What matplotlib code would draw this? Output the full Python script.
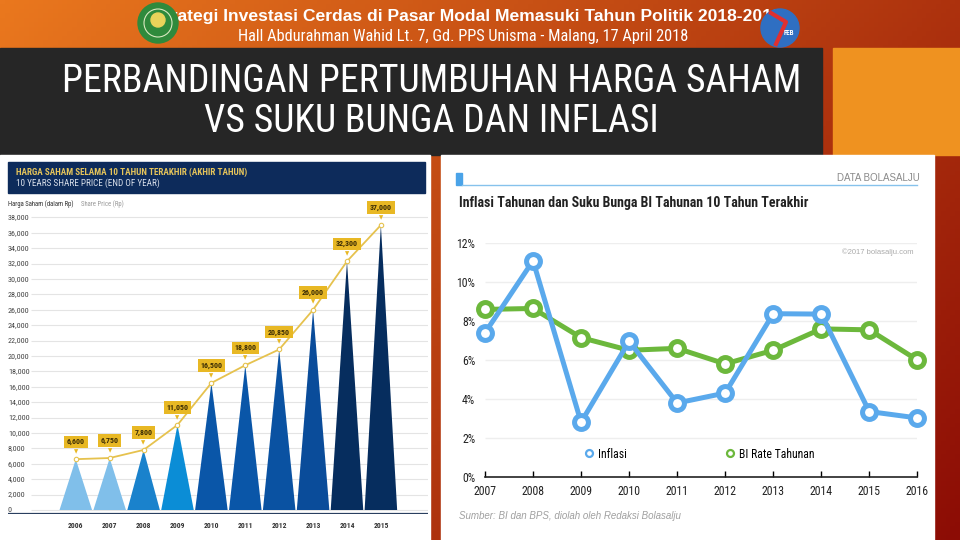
import numpy as np
import matplotlib
matplotlib.use("Agg")
import matplotlib.pyplot as plt
from matplotlib.patches import Rectangle, Circle
from matplotlib.lines import Line2D

# ---- data ----
share_years = ["2006", "2007", "2008", "2009", "2010", "2011", "2012", "2013", "2014", "2015"]
share_price = [6600, 6750, 7800, 11050, 16500, 18800, 20850, 26000, 32300, 37000]
share_colors = ["#80bfea", "#80bfea", "#1a82cc", "#0b8dd6", "#0a56a8", "#0a56a8",
                "#0a52a2", "#0a4c9a", "#062d5e", "#062d5e"]
share_ticks = list(range(0, 38001, 2000))

rate_years = [2007, 2008, 2009, 2010, 2011, 2012, 2013, 2014, 2015, 2016]
inflasi = [7.4, 11.1, 2.8, 6.96, 3.79, 4.3, 8.38, 8.36, 3.35, 3.02]
bi_rate = [8.6, 8.65, 7.15, 6.5, 6.6, 5.8, 6.5, 7.6, 7.55, 6.0]
pct_ticks = [0, 2, 4, 6, 8, 10, 12]

W, H = 960, 540
NARROW = ["Roboto Condensed", "DejaVu Sans"]
SANS = ["Liberation Sans", "DejaVu Sans"]
COND = dict(family=NARROW, fontstretch="condensed")


def rect(x0, y0, x1, y1):
    return [x0 / W, 1 - y1 / H, (x1 - x0) / W, (y1 - y0) / H]


fig = plt.figure(figsize=(9.6, 5.4), dpi=100)

# ---- slide background ----
bg = fig.add_axes([0, 0, 1, 1])
bg.set_xlim(0, W)
bg.set_ylim(H, 0)
bg.axis("off")
xx, yy = np.meshgrid(np.linspace(0, 1, 200), np.linspace(0, 1, 120))
t = np.clip(0.65 * xx + 0.35 * yy, 0, 1)[..., None]
c0 = np.array([234, 120, 30]) / 255
c1 = np.array([140, 12, 5]) / 255
bg.imshow(c0 * (1 - t) + c1 * t, extent=[0, W, H, 0], aspect="auto", zorder=0)

bg.add_patch(Rectangle((0, 48), 822, 107, color="#262626", zorder=1))
bg.add_patch(Rectangle((833, 48), 127, 107, color="#ef9220", zorder=1))
bg.add_patch(Rectangle((0, 155), 430, 385, color="white", zorder=1))
bg.add_patch(Rectangle((441, 155), 493, 385, color="white", zorder=1))

# header
bg.text(467, 17, "Strategi Investasi Cerdas di Pasar Modal Memasuki Tahun Politik 2018-2019",
        color="white", fontsize=12.6, fontweight="bold", family=SANS,
        ha="center", va="center", zorder=2)
bg.text(463, 37, "Hall Abdurahman Wahid Lt. 7, Gd. PPS Unisma - Malang, 17 April 2018",
        color="white", fontsize=11.8, ha="center", va="center", zorder=2, **COND)
# logos
bg.add_patch(Circle((158, 23), 20, color="#2f8a3c", zorder=3))
bg.add_patch(Circle((158, 23), 14, fill=False, ec="#d8e8c0", lw=0.8, zorder=4))
bg.add_patch(Circle((158, 20), 7, color="#e9d35a", zorder=4))
bg.add_patch(Circle((780, 28), 19, color="#2f6fc2", zorder=3))
bg.plot([771, 786, 776], [13, 22, 44], color="#e03030", lw=3, zorder=4)
bg.text(789, 33, "FEB", color="white", fontsize=5, fontweight="bold",
        ha="center", va="center", zorder=5, **COND)

# slide title
bg.text(432, 82, "PERBANDINGAN PERTUMBUHAN HARGA SAHAM", color="white", fontsize=27.3,
        ha="center", va="center", zorder=2, **COND)
bg.text(431, 121, "VS SUKU BUNGA DAN INFLASI", color="white", fontsize=27.3,
        ha="center", va="center", zorder=2, **COND)

# ---- left chart: share price ----
bg.add_patch(Rectangle((8, 162), 417, 31, color="#0d2b5b", zorder=2))
bg.text(16, 172, "HARGA SAHAM SELAMA 10 TAHUN TERAKHIR (AKHIR TAHUN)", color="#e5c45a",
        fontsize=6.6, fontweight="bold", va="center", zorder=3, **COND)
bg.text(16, 183, "10 YEARS SHARE PRICE (END OF YEAR)", color="#d9dfea",
        fontsize=6.6, va="center", zorder=3, **COND)
bg.text(8, 204, "Harga Saham (dalam Rp)", color="#333333", fontsize=4.9,
        va="center", zorder=3, **COND)
bg.text(81, 204, "Share Price (Rp)", color="#999999", fontsize=4.9,
        va="center", zorder=3, **COND)

ax1 = fig.add_axes(rect(8, 209.7, 428, 514))
ax1.patch.set_alpha(0)
x1 = np.arange(len(share_years))
ax1.set_xlim(-2.0, 10.39)
ax1.set_ylim(-520, 39000)
for s in ax1.spines.values():
    s.set_visible(False)
ax1.set_xticks([])
ax1.set_yticks([])
ax1.hlines(share_ticks, -1.32, 10.39, color="#e4e4e4", lw=0.8, zorder=0)
for v in share_ticks:
    ax1.text(-2.0, v, f"{v:,}", fontsize=5.9, color="#444444",
             ha="left", va="center", **COND)
ax1.axhline(-520, color="#2a3f5f", lw=1.6)
for xi, v, c in zip(x1, share_price, share_colors):
    ax1.fill([xi - 0.48, xi, xi + 0.48], [0, v, 0], color=c, lw=0, zorder=2)
    ax1.text(xi, -520 - 1550, share_years[xi], fontsize=5.4, fontweight="bold",
             color="#333333", ha="center", va="center", **COND)
ax1.plot(x1, share_price, color="#e6c24e", lw=1.3, marker="o", ms=3.2,
         mfc="white", mec="#e6c24e", mew=0.8, zorder=3)
for xi, v in zip(x1, share_price):
    ax1.annotate(f"{v:,}", (xi, v), xytext=(0, 12.5), textcoords="offset points",
                 ha="center", va="center", fontsize=5.7, fontweight="bold",
                 color="#3a2c05", zorder=5, **COND,
                 bbox=dict(boxstyle="square,pad=0.35", fc="#e8b824", ec="none"))
    ax1.annotate("\u25bc", (xi, v), xytext=(0, 5.5), textcoords="offset points",
                 ha="center", va="center", fontsize=4, color="#e8b824", zorder=5)

# ---- right chart: inflation and BI rate ----
bg.add_patch(Rectangle((456, 173), 6, 12, color="#4aa3e8", zorder=2))
bg.plot([462, 917], [184.5, 184.5], color="#86c2ec", lw=1, zorder=2)
bg.text(920, 178, "DATA BOLASALJU", color="#8a8a8a", fontsize=7, family=SANS,
        ha="right", va="center", zorder=2)
bg.text(459, 203, "Inflasi Tahunan dan Suku Bunga BI Tahunan 10 Tahun Terakhir",
        color="#222222", fontsize=10, fontweight="bold", va="center", zorder=2, **COND)
bg.text(913, 252, "\u00a92017 bolasalju.com", color="#aaaaaa", fontsize=5.5,
        family=SANS, ha="right", va="center", zorder=2)
bg.text(459, 516, "Sumber: BI dan BPS, diolah oleh Redaksi Bolasalju", color="#a0a0a0",
        fontsize=7, style="italic", family=SANS, va="center", zorder=2)

ax2 = fig.add_axes(rect(485, 243.3, 917.3, 476.7))
ax2.patch.set_alpha(0)
ax2.set_xlim(2007, 2016)
ax2.set_ylim(0, 12)
for side in ["top", "right", "left"]:
    ax2.spines[side].set_visible(False)
ax2.spines["bottom"].set_color("#222222")
ax2.spines["bottom"].set_linewidth(1.2)
ax2.hlines(pct_ticks[1:], 2007, 2016, color="#eeeeee", lw=1, zorder=0)
ax2.set_xticks(rate_years)
ax2.set_xticklabels([str(y) for y in rate_years], fontsize=8.5, color="#222222", **COND)
ax2.tick_params(axis="x", direction="in", length=4, width=1, pad=6)
ax2.set_yticks(pct_ticks)
ax2.set_yticklabels([f"{p}%" for p in pct_ticks], fontsize=8.5, color="#222222", **COND)
ax2.tick_params(axis="y", length=0, pad=7)
blue, green = "#5aa9ec", "#6cb83c"
ax2.plot(rate_years, bi_rate, color=green, lw=3.6, marker="o", ms=10, mfc="white",
         mec=green, mew=3.6, clip_on=False, zorder=3)
ax2.plot(rate_years, inflasi, color=blue, lw=3.6, marker="o", ms=10, mfc="white",
         mec=blue, mew=3.6, clip_on=False, zorder=4)
handles = [Line2D([], [], ls="none", marker="o", ms=5, mfc="white", mec=blue, mew=1.6),
           Line2D([], [], ls="none", marker="o", ms=5, mfc="white", mec=green, mew=1.6)]
ax2.legend(handles, ["Inflasi", "BI Rate Tahunan"], ncol=2, frameon=False,
           loc="center left", bbox_to_anchor=((572 - 485) / 432.3, (476.7 - 454) / 233.4),
           prop={"family": NARROW, "stretch": "condensed", "size": 8.5},
           handletextpad=0.3, columnspacing=8.2, handlelength=1.0)

fig.savefig("out.png", dpi=100)
